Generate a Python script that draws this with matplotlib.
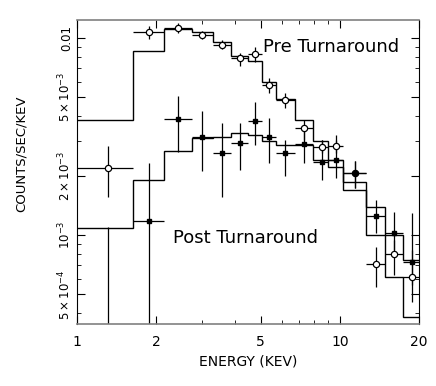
import numpy as np
import matplotlib
matplotlib.use("Agg")
import matplotlib.pyplot as plt
from matplotlib.ticker import FixedLocator, FixedFormatter, NullFormatter

# energy bins (keV)
edges = [1.0, 1.64, 2.14, 2.73, 3.30, 3.87, 4.49, 5.04, 5.72, 6.74, 7.92, 9.0, 10.3, 12.6, 14.8, 17.4, 20.0]
energy = [1.316, 1.884, 2.43, 3.0, 3.57, 4.17, 4.75, 5.39, 6.18, 7.32, 8.52, 9.67, 11.4, 13.7, 16.1, 18.8]

# pre turnaround (open circles)
pre_rate = [2.18e-3, 1.07e-2, 1.128e-2, 1.036e-2, 9.2e-3, 7.88e-3, 8.3e-3, 5.77e-3,
            4.85e-3, 3.5e-3, 2.79e-3, 2.83e-3, 2.06e-3, 7.1e-4, 8.0e-4, 6.1e-4]
pre_lo = [1.55e-3, 9.9e-3, 1.057e-2, 9.85e-3, 8.76e-3, 7.21e-3, 7.58e-3, 5.26e-3,
          4.41e-3, 3.03e-3, 2.61e-3, 2.61e-3, 1.73e-3, 5.47e-4, 6.26e-4, 4.57e-4]
pre_hi = [2.83e-3, 1.15e-2, 1.19e-2, 1.09e-2, 9.78e-3, 8.36e-3, 9.03e-3, 6.27e-3,
          5.26e-3, 3.83e-3, 3.03e-3, 3.03e-3, 2.36e-3, 8.7e-4, 9.4e-4, 8.4e-4]
pre_model = [3.83e-3, 8.56e-3, 1.115e-2, 1.07e-2, 9.58e-3, 8.1e-3, 7.6e-3, 6.0e-3,
             4.89e-3, 3.83e-3, 3.0e-3, 2.22e-3, 1.86e-3, 1.0e-3, 6.14e-4, 3.85e-4]

# post turnaround (filled)
post_rate = [3.0e-4, 1.18e-3, 3.88e-3, 3.16e-3, 2.62e-3, 2.94e-3, 3.8e-3, 3.13e-3,
             2.62e-3, 2.89e-3, 2.34e-3, 2.4e-3, 2.06e-3, 1.25e-3, 1.02e-3, 7.3e-4]
post_lo = [1e-4, 1e-4, 2.65e-3, 2.1e-3, 1.55e-3, 2.14e-3, 2.86e-3, 2.31e-3,
           1.99e-3, 2.31e-3, 1.9e-3, 1.94e-3, 1.73e-3, 1.02e-3, 8.4e-4, 5.57e-4]
post_hi = [1.1e-3, 2.32e-3, 5.1e-3, 4.26e-3, 3.69e-3, 3.7e-3, 4.75e-3, 3.91e-3,
           3.03e-3, 3.62e-3, 3.03e-3, 3.22e-3, 2.36e-3, 1.5e-3, 1.31e-3, 1.29e-3]
post_model = [1.08e-3, 1.9e-3, 2.68e-3, 3.1e-3, 3.15e-3, 3.3e-3, 3.2e-3, 3.0e-3,
              2.86e-3, 2.86e-3, 2.4e-3, 2.4e-3, 1.69e-3, 1.39e-3, 1.0e-3, 7.46e-4]

x_ticks = [1, 2, 5, 10, 20]
x_labels = ["1", "2", "5", "10", "20"]
y_ticks = [5e-4, 1e-3, 2e-3, 5e-3, 1e-2]
y_labels = [r"$5\times10^{-4}$", r"$10^{-3}$", r"$2\times10^{-3}$", r"$5\times10^{-3}$", "0.01"]

plt.rcParams["font.family"] = "DejaVu Sans"
plt.rcParams["mathtext.fontset"] = "dejavusans"

fig = plt.figure(figsize=(4.36, 3.86), dpi=100)
ax = fig.add_axes([0.1766, 0.1606, 0.7844, 0.7876])
ax.set_xscale("log")
ax.set_yscale("log")
ax.set_xlim(1, 20)
ax.set_ylim(3.53e-4, 1.234e-2)

energy = np.array(energy)
edges = np.array(edges)
xlo = energy - edges[:-1]
xhi = edges[1:] - energy

ax.stairs(pre_model, edges, baseline=None, color="black", lw=1.0)
ax.stairs(post_model, edges, baseline=None, color="black", lw=1.0)

pre_rate = np.array(pre_rate)
post_rate = np.array(post_rate)
ax.errorbar(energy, pre_rate, xerr=[xlo, xhi],
            yerr=[pre_rate - np.array(pre_lo), np.array(pre_hi) - pre_rate],
            fmt="o", mfc="white", mec="black", ms=4.5, mew=0.9, color="black", lw=0.9, capsize=0)
ax.errorbar(energy, post_rate, xerr=[xlo, xhi],
            yerr=[post_rate - np.array(post_lo), np.array(post_hi) - post_rate],
            fmt="s", mfc="black", mec="black", ms=3.2, color="black", lw=0.9, capsize=0)

ax.text(5.1, 8.5e-3, "Pre Turnaround", fontsize=13, color="black")
ax.text(2.32, 0.91e-3, "Post Turnaround", fontsize=13, color="black")

ax.xaxis.set_major_locator(FixedLocator(x_ticks))
ax.xaxis.set_major_formatter(FixedFormatter(x_labels))
ax.xaxis.set_minor_locator(FixedLocator([3, 4, 6, 7, 8, 9]))
ax.xaxis.set_minor_formatter(NullFormatter())
ax.yaxis.set_major_locator(FixedLocator(y_ticks))
ax.yaxis.set_major_formatter(FixedFormatter(y_labels))
y_minor = [4e-4, 6e-4, 7e-4, 8e-4, 9e-4, 3e-3, 4e-3, 6e-3, 7e-3, 8e-3, 9e-3]
ax.yaxis.set_minor_locator(FixedLocator(y_minor))
ax.yaxis.set_minor_formatter(NullFormatter())

ax.tick_params(which="both", direction="in", top=True, right=True, color="black")
ax.tick_params(axis="x", labelsize=10, pad=8)
ax.tick_params(axis="y", labelsize=8.5, pad=3)
ax.tick_params(which="major", length=6)
ax.tick_params(which="minor", length=3)
for lab in ax.get_yticklabels():
    lab.set_rotation(90)
    lab.set_va("center")

for side in ["top", "bottom"]:
    ax.spines[side].set_color("#808080")
    ax.spines[side].set_linewidth(1.2)
for side in ["left", "right"]:
    ax.spines[side].set_color("black")

ax.set_xlabel("ENERGY (KEV)", fontsize=10, labelpad=4)
ax.set_ylabel("COUNTS/SEC/KEV", fontsize=9.5)
ax.yaxis.set_label_coords(-0.145, 0.56)

fig.savefig("out.png", dpi=100)
